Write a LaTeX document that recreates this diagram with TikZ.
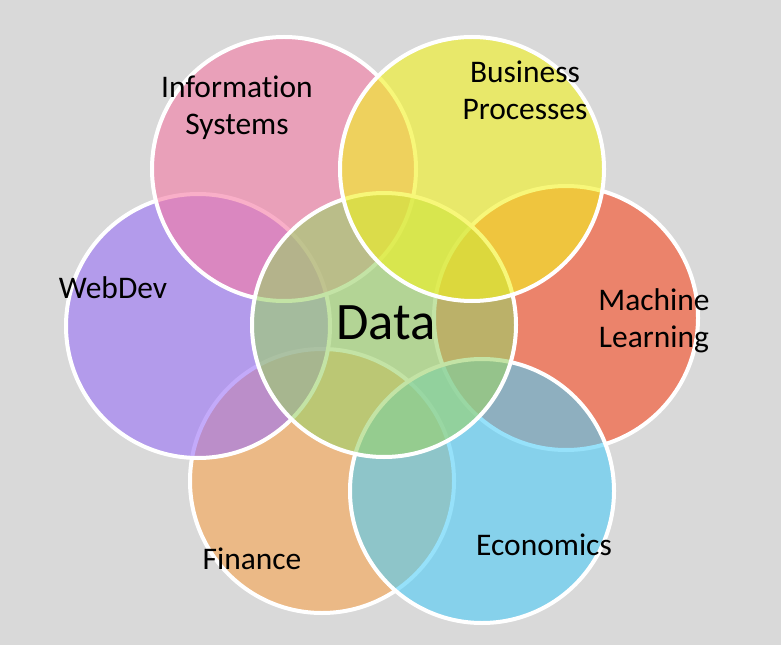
\documentclass[tikz,border=0pt]{standalone}
\usepackage{fontspec}
\setmainfont{Carlito}[Ligatures=NoCommon]
\usepackage{tikz}
\definecolor{bggray}{RGB}{217,217,217}
\definecolor{infopink}{RGB}{245,122,164}
\definecolor{bizyellow}{RGB}{242,242,32}
\definecolor{mlorange}{RGB}{247,75,35}
\definecolor{econblue}{RGB}{80,205,247}
\definecolor{finpeach}{RGB}{247,164,80}
\definecolor{webpurple}{RGB}{155,114,247}
\definecolor{datagreen}{RGB}{155,209,105}

\begin{document}
\begin{tikzpicture}[x=0.75pt,y=-0.75pt,
        venn/.style={circle, draw=white, line width=3pt, fill opacity=0.6, minimum size=198pt, inner sep=0pt},
        lbl/.style={align=center, font=\fontsize{23.6}{28}\selectfont, text=black}]
        \fill[bggray] (0,0) rectangle (781,645);
        \useasboundingbox (0,0) rectangle (781,645);

        \foreach \name/\col/\pos in {fin/finpeach/{(322,481)}, ml/mlorange/{(566,318)},
            econ/econblue/{(482,491)}, web/webpurple/{(198,326)}, info/infopink/{(284,169)},
            data/datagreen/{(384,325)}, biz/bizyellow/{(472,169)}}{% circles, bottom to top
            \node[venn, fill=\col] (\name) at \pos {};
        }

        \node[lbl] (infotext) at (237,108) {Information\\Systems};
        \node[lbl] (biztext) at (525,90) {Business\\Processes};
        \node[lbl] (webtext) at (113,288) {WebDev};
        \node[lbl] (mltext) at (654,321) {Machine\\Learning};
        \node[lbl] (econtext) at (544,545) {Economics};
        \node[lbl] (fintext) at (252,559) {Finance};
        \node[lbl, font=\fontsize{39.5}{46}\selectfont] (datatext) at (386,323) {Data};
    \end{tikzpicture}
\end{document}
